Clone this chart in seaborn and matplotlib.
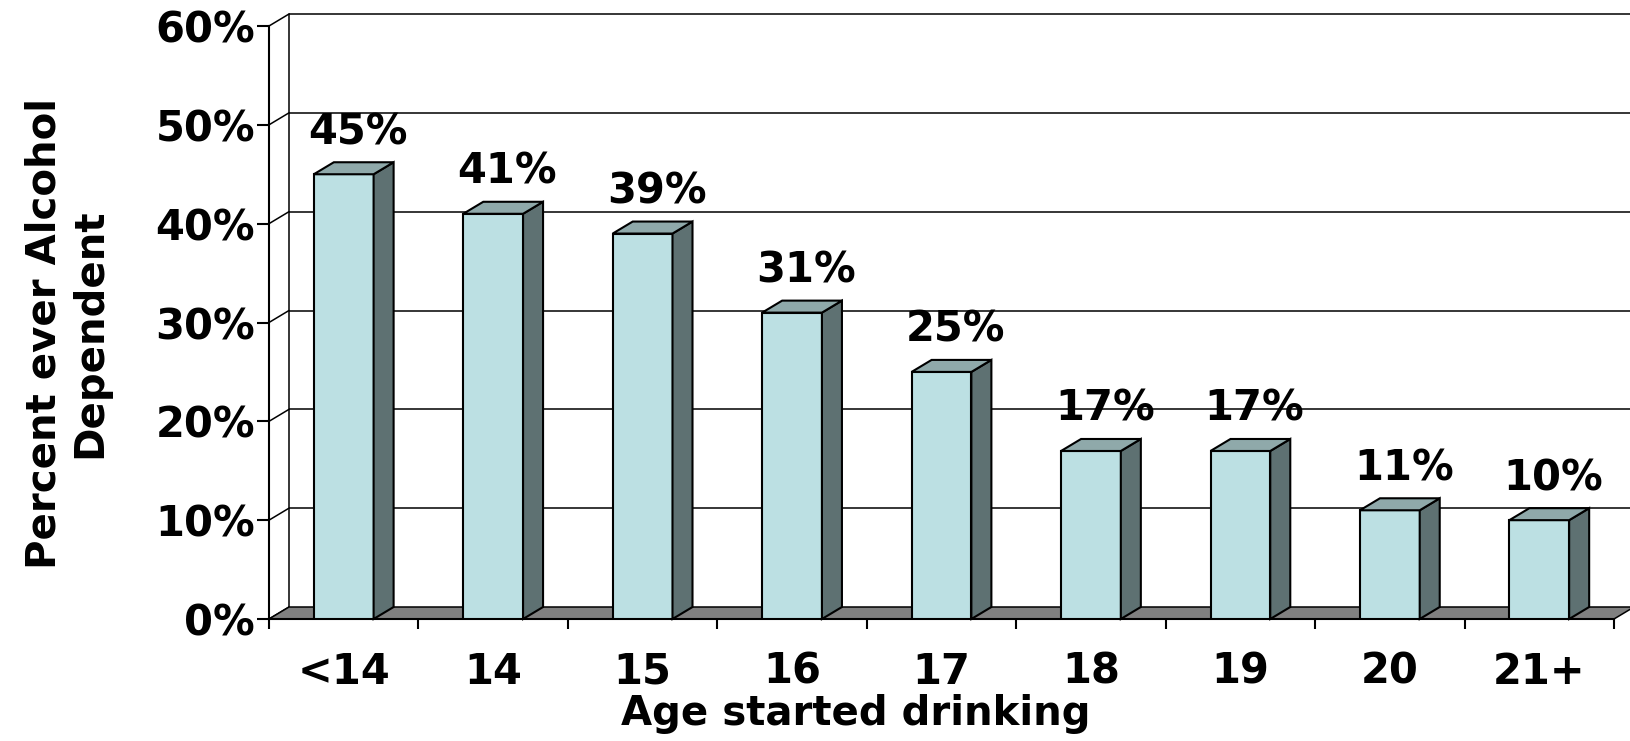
"""
Percent ever alcohol dependent by age started drinking -- Excel-style 3D bar chart.
"""

import matplotlib.pyplot as plt
import matplotlib.patches as mpatches
import numpy as np
import pandas as pd
import seaborn as sns

# data
ages = ["<14", "14", "15", "16", "17", "18", "19", "20", "21+"]
pct_dependent = [45, 41, 39, 31, 25, 17, 17, 11, 10]
y_ticks = [0, 10, 20, 30, 40, 50, 60]
y_tick_labels = [f"{t}%" for t in y_ticks]

FRONT = "#BCE0E3"
TOP = "#8FA9AA"
SIDE = "#5E7172"
FLOOR = "#808080"
DEPTH_PX = (20, 12)  # 3D depth offset in pixels

sns.set_theme(style="white", rc={
    "text.color": "black",
    "axes.labelcolor": "black",
    "xtick.color": "black",
    "ytick.color": "black",
})
plt.rcParams["font.family"] = ["DejaVu Sans"]
plt.rcParams["font.weight"] = "bold"

fig = plt.figure(figsize=(16.3, 7.41), dpi=100)
W, H = 1630, 741
ax = fig.add_axes([269 / W, 1 - 619 / H, (1614 - 269) / W, (619 - 26) / H])

df = pd.DataFrame({"age": ages, "pct": pct_dependent})
sns.barplot(data=df, x="age", y="pct", color=FRONT, saturation=1, width=0.40,
            edgecolor="black", linewidth=1.5, ax=ax, zorder=3)

n = len(ages)
ax.set_xlim(-0.5, n - 0.5)
ax.set_ylim(0, 60)

# convert the pixel depth into data units
ax_w_px = (1614 - 269)
ax_h_px = (619 - 26)
dx = DEPTH_PX[0] * n / ax_w_px
dy = DEPTH_PX[1] * 60 / ax_h_px
x0, x1 = -0.5, n - 0.5

# back wall gridlines + left wall
for t in y_ticks[1:]:
    ax.plot([x0 + dx, x1 + dx], [t + dy, t + dy], color="black", lw=1.1,
            zorder=1, clip_on=False, solid_capstyle="butt")
for t in y_ticks:
    ax.plot([x0, x0 + dx], [t, t + dy], color="black", lw=1.1, zorder=1, clip_on=False)
ax.plot([x0 + dx, x0 + dx], [dy, 60 + dy], color="black", lw=1.1, zorder=1, clip_on=False)

# floor
floor = mpatches.Polygon([(x0, 0), (x1, 0), (x1 + dx, dy), (x0 + dx, dy)],
                         closed=True, facecolor=FLOOR, edgecolor="black", lw=1.1,
                         zorder=2, clip_on=False)
ax.add_patch(floor)

# 3D side and top faces from the seaborn bars
for bar, val in zip(list(ax.patches)[:n], pct_dependent):
    bx, bw, bh = bar.get_x(), bar.get_width(), bar.get_height()
    side = mpatches.Polygon([(bx + bw, 0), (bx + bw + dx, dy), (bx + bw + dx, bh + dy), (bx + bw, bh)],
                            closed=True, facecolor=SIDE, edgecolor="black", lw=1.5,
                            zorder=3, clip_on=False)
    top = mpatches.Polygon([(bx, bh), (bx + bw, bh), (bx + bw + dx, bh + dy), (bx + dx, bh + dy)],
                           closed=True, facecolor=TOP, edgecolor="black", lw=1.5,
                           zorder=3, clip_on=False)
    ax.add_patch(side)
    ax.add_patch(top)
    ax.annotate(f"{val}%", (bx + bw / 2 + dx * 0.7, bh + dy), xytext=(0, 13),
                textcoords="offset points", ha="center", va="baseline",
                fontsize=30, fontweight="bold", zorder=4)

# axes styling
for s in ["top", "right"]:
    ax.spines[s].set_visible(False)
for s in ["left", "bottom"]:
    ax.spines[s].set_color("black")
    ax.spines[s].set_linewidth(1.5)
    ax.spines[s].set_zorder(2.5)

ax.set_yticks(y_ticks)
ax.set_yticklabels(y_tick_labels)
ax.set_xticks(np.arange(-0.5, n, 1), minor=True)
ax.tick_params(axis="y", which="major", direction="out", length=9, width=1.5,
               labelsize=30, pad=1, left=True)
ax.tick_params(axis="x", which="major", length=0, labelsize=30, pad=23)
ax.tick_params(axis="x", which="minor", direction="out", length=7, width=1.5,
               bottom=True)
for lbl in ax.get_xticklabels() + ax.get_yticklabels():
    lbl.set_fontweight("bold")

ax.set_xlabel("Age started drinking", fontsize=29, fontweight="bold")
ax.xaxis.set_label_coords(0.436, -0.126)
ax.xaxis.label.set_verticalalignment("top")
ax.set_ylabel("Percent ever Alcohol\nDependent", fontsize=29, fontweight="bold",
              linespacing=1.2)
ax.yaxis.set_label_coords(-0.118, 0.482)
ax.grid(False)

fig.savefig("out.png", dpi=100)
